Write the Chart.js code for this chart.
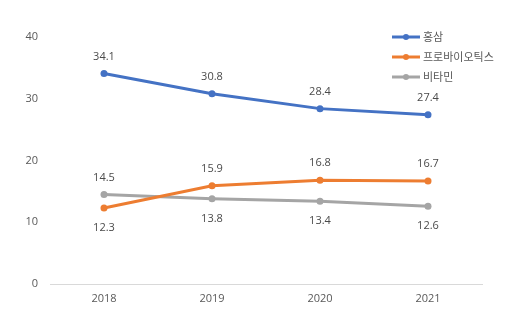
<!DOCTYPE html>
<html>
<head>
<meta charset="utf-8">
<script src="https://cdn.jsdelivr.net/npm/chart.js@4/dist/chart.umd.min.js"></script>
<style>
  html, body { margin: 0; padding: 0; background: #fff; }
  #wrap { width: 509px; height: 326px; }
</style>
</head>
<body>
<div id="wrap"><canvas id="c" width="509" height="326"></canvas></div>
<script>
// Years on the x axis
const years = ['2018', '2019', '2020', '2021'];
// Series values
const hongsam = [34.1, 30.8, 28.4, 27.4];
const probiotics = [12.3, 15.9, 16.8, 16.7];
const vitamin = [14.5, 13.8, 13.4, 12.6];
// Series names
const seriesNames = ['홍삼', '프로바이오틱스', '비타민'];
// Y axis ticks
const yTicks = [0, 10, 20, 30, 40];
// Label placement for each point: true = above, false = below
const hongsamAbove = [true, true, true, true];
const probioticsAbove = [false, true, true, true];
const vitaminAbove = [true, false, false, false];

const colors = ['#4472C4', '#ED7D31', '#A5A5A5'];
const textColor = '#4a4a4a';
const axisColor = '#595959';
const numFont = '11px "Open Sans", "Noto Sans", sans-serif';
const krFont = '11px "Noto Sans CJK KR", sans-serif';

const placements = [hongsamAbove, probioticsAbove, vitaminAbove];

// Value labels drawn next to each point
const valueLabels = {
  id: 'valueLabels',
  afterDatasetsDraw(chart) {
    const ctx = chart.ctx;
    ctx.save();
    ctx.font = numFont;
    ctx.fillStyle = textColor;
    ctx.textAlign = 'center';
    ctx.textBaseline = 'middle';
    chart.data.datasets.forEach((ds, i) => {
      const meta = chart.getDatasetMeta(i);
      meta.data.forEach((pt, j) => {
        const above = placements[i][j];
        const y = above ? pt.y - 17 : pt.y + 20;
        ctx.fillText(ds.data[j].toFixed(1), pt.x, y);
      });
    });
    ctx.restore();
  }
};

// Vertical legend in the upper right corner
const sideLegend = {
  id: 'sideLegend',
  afterDraw(chart) {
    const ctx = chart.ctx;
    ctx.save();
    chart.data.datasets.forEach((ds, i) => {
      const y = 37 + i * 20;
      ctx.strokeStyle = ds.borderColor;
      ctx.lineWidth = 3;
      ctx.beginPath();
      ctx.moveTo(392, y);
      ctx.lineTo(420, y);
      ctx.stroke();
      ctx.fillStyle = ds.borderColor;
      ctx.beginPath();
      ctx.arc(406, y, 3, 0, Math.PI * 2);
      ctx.fill();
      ctx.font = krFont;
      ctx.fillStyle = axisColor;
      ctx.textAlign = 'left';
      ctx.textBaseline = 'middle';
      ctx.fillText(ds.label, 423, y);
    });
    ctx.restore();
  }
};

new Chart(document.getElementById('c'), {
  type: 'line',
  data: {
    labels: years,
    datasets: [hongsam, probiotics, vitamin].map((d, i) => ({
      label: seriesNames[i],
      data: d,
      borderColor: colors[i],
      backgroundColor: colors[i],
      borderWidth: 3,
      pointRadius: 3.5,
      pointHoverRadius: 3.5,
      pointBorderWidth: 0,
      tension: 0,
      fill: false
    }))
  },
  options: {
    responsive: false,
    animation: false,
    devicePixelRatio: 1,
    layout: { padding: { left: 0, right: 27, top: 37, bottom: 0 } },
    plugins: { legend: { display: false }, tooltip: { enabled: false } },
    scales: {
      x: {
        offset: true,
        grid: { display: false, drawTicks: false },
        border: { display: true, color: '#D9D9D9', width: 1 },
        ticks: { color: axisColor, font: { family: '"Open Sans", "Noto Sans", sans-serif', size: 11 }, padding: 8 },
        afterFit(s) { s.height = 42; }
      },
      y: {
        min: 0,
        max: 40,
        afterBuildTicks(s) { s.ticks = yTicks.map(v => ({ value: v })); },
        grid: { display: false, drawTicks: false },
        border: { display: false },
        ticks: { color: axisColor, font: { family: '"Open Sans", "Noto Sans", sans-serif', size: 11 }, padding: 12 },
        afterFit(s) { s.width = 50; }
      }
    }
  },
  plugins: [valueLabels, sideLegend]
});
</script>
</body>
</html>
